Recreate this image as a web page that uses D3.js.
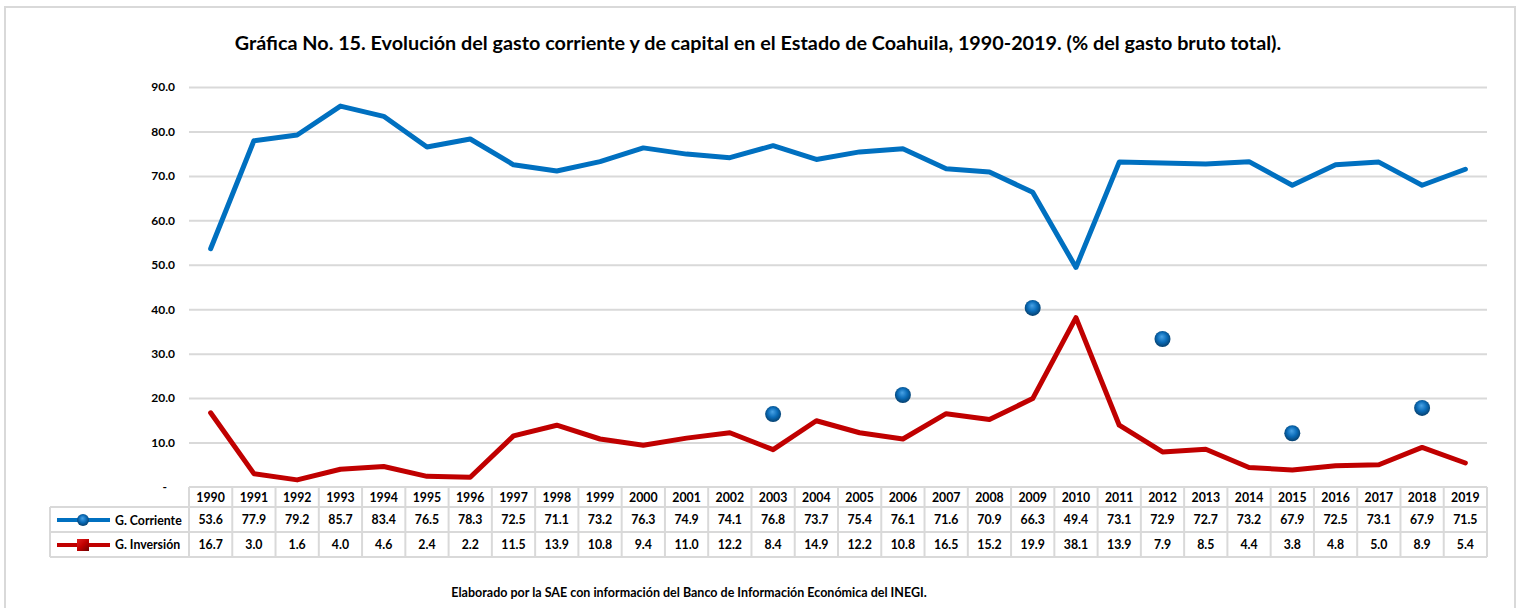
<!DOCTYPE html>
<html lang="es">
<head>
<meta charset="UTF-8">
<title>Gráfica No. 15</title>
<script src="https://cdn.jsdelivr.net/npm/d3@7"></script>
<style>
  body { margin: 0; background: #fff; }
  svg { display: block; font-family: Lato, "Open Sans", sans-serif; }
</style>
</head>
<body>
<svg class="svg"></svg>
<script>
const years = ["1990","1991","1992","1993","1994","1995","1996","1997","1998","1999",
  "2000","2001","2002","2003","2004","2005","2006","2007","2008","2009",
  "2010","2011","2012","2013","2014","2015","2016","2017","2018","2019"];
const corriente = [53.6,77.9,79.2,85.7,83.4,76.5,78.3,72.5,71.1,73.2,76.3,74.9,74.1,76.8,73.7,
  75.4,76.1,71.6,70.9,66.3,49.4,73.1,72.9,72.7,73.2,67.9,72.5,73.1,67.9,71.5];
const inversion = [16.7,3.0,1.6,4.0,4.6,2.4,2.2,11.5,13.9,10.8,9.4,11.0,12.2,8.4,14.9,
  12.2,10.8,16.5,15.2,19.9,38.1,13.9,7.9,8.5,4.4,3.8,4.8,5.0,8.9,5.4];
// loose markers floating in the plot
const dotYears = ["2003","2006","2009","2012","2015","2018"];
const dotValues = [16.4, 20.7, 40.3, 33.3, 12.1, 17.8];
const yTicks = [0,10,20,30,40,50,60,70,80,90];

const title = "Gráfica No. 15. Evolución del gasto corriente y de capital en el Estado de Coahuila, 1990-2019. (% del gasto bruto total).";
const note = "Elaborado por la SAE con información del Banco de Información Económica del INEGI.";

const W = 1520, H = 608;
const pLeft = 189, pRight = 1487, pTop = 87, pBottom = 487;
const blue = "#0070C0", red = "#C00000", grid = "#d9d9d9";

const svg = d3.select(".svg").attr("width", W).attr("height", H);

const defs = svg.append("defs");
const bg = defs.append("radialGradient").attr("id", "ball").attr("cx", "50%").attr("cy", "45%").attr("r", "55%").attr("fx", "45%").attr("fy", "35%");
bg.append("stop").attr("offset", "0%").attr("stop-color", "#4aa3e6");
bg.append("stop").attr("offset", "55%").attr("stop-color", "#0b6cb8");
bg.append("stop").attr("offset", "100%").attr("stop-color", "#06406e");
const sq = defs.append("linearGradient").attr("id", "sq").attr("x1", "0").attr("y1", "0").attr("x2", "1").attr("y2", "1");
sq.append("stop").attr("offset", "0%").attr("stop-color", "#e02020");
sq.append("stop").attr("offset", "50%").attr("stop-color", "#c00000");
sq.append("stop").attr("offset", "100%").attr("stop-color", "#6a0000");

svg.append("rect").attr("x", 5).attr("y", 7).attr("width", 1510).attr("height", 620)
  .attr("fill", "none").attr("stroke", grid).attr("stroke-width", 2);

svg.append("text").attr("x", 758).attr("y", 50).attr("text-anchor", "middle")
  .attr("font-size", 19.8).attr("font-weight", "bold").attr("fill", "#000").text(title);

const x = d3.scaleBand().domain(years).range([pLeft, pRight]);
const xc = d => x(d) + x.bandwidth() / 2;
const y = d3.scaleLinear().domain([0, 90]).range([pBottom, pTop]);

// gridlines
svg.append("g").attr("transform", "translate(" + pLeft + ",0)")
  .call(d3.axisLeft(y).tickValues(yTicks.slice(1)).tickSize(-(pRight - pLeft)).tickFormat(""))
  .call(g => g.select(".domain").remove())
  .call(g => g.selectAll("line").attr("stroke", grid).attr("stroke-width", 2));

// y labels
svg.append("g").attr("transform", "translate(175,0)")
  .call(d3.axisLeft(y).tickValues(yTicks).tickSize(0).tickPadding(0)
    .tickFormat(d => d === 0 ? "-" : d.toFixed(1)))
  .call(g => g.select(".domain").remove())
  .call(g => g.selectAll("text").attr("font-size", 12).attr("font-weight", "bold")
    .attr("font-family", "Lato, sans-serif").attr("fill", "#000"))
  .call(g => g.selectAll(".tick").filter(d => d === 0).select("text").attr("dx", -8));

const line = d3.line().x((d, i) => xc(years[i])).y(d => y(d));
svg.append("path").datum(inversion).attr("d", line).attr("fill", "none")
  .attr("stroke", red).attr("stroke-width", 5).attr("stroke-linejoin", "round").attr("stroke-linecap", "round");
svg.append("path").datum(corriente).attr("d", line).attr("fill", "none")
  .attr("stroke", blue).attr("stroke-width", 5).attr("stroke-linejoin", "round").attr("stroke-linecap", "round");

svg.append("g").selectAll("circle").data(dotValues).join("circle")
  .attr("cx", (d, i) => xc(dotYears[i])).attr("cy", d => y(d)).attr("r", 8)
  .attr("fill", "url(#ball)");

// data table
const rowY = [487, 507, 532, 557];
const tbl = svg.append("g");
const cellText = (row, vals, fmt) => {
  tbl.append("g").selectAll("text").data(vals).join("text")
    .attr("x", (d, i) => xc(years[i])).attr("y", (rowY[row] + rowY[row + 1]) / 2 + 4.5)
    .attr("text-anchor", "middle").attr("font-size", 12.3).attr("font-weight", "bold")
    .text(fmt);
};
// borders
const bord = tbl.append("g").attr("stroke", grid).attr("stroke-width", 2);
bord.append("line").attr("x1", pLeft).attr("x2", pRight).attr("y1", rowY[0]).attr("y2", rowY[0]);
[1, 2, 3].forEach(r => bord.append("line").attr("x1", 50).attr("x2", pRight).attr("y1", rowY[r]).attr("y2", rowY[r]));
bord.append("line").attr("x1", 50).attr("x2", 50).attr("y1", rowY[1]).attr("y2", rowY[3]);
bord.selectAll(".v").data(years.concat(["end"])).join("line")
  .attr("x1", d => d === "end" ? pRight : x(d)).attr("x2", d => d === "end" ? pRight : x(d))
  .attr("y1", rowY[0]).attr("y2", rowY[3]);

cellText(0, years, d => d);
cellText(1, corriente, d => d.toFixed(1));
cellText(2, inversion, d => d.toFixed(1));

// legend keys in table
const key = tbl.append("g");
key.append("line").attr("x1", 57).attr("x2", 110).attr("y1", 520).attr("y2", 520).attr("stroke", blue).attr("stroke-width", 4);
key.append("circle").attr("cx", 83).attr("cy", 520).attr("r", 6).attr("fill", "url(#ball)");
key.append("line").attr("x1", 57).attr("x2", 110).attr("y1", 545).attr("y2", 545).attr("stroke", red).attr("stroke-width", 4);
key.append("rect").attr("x", 77).attr("y", 539).attr("width", 12).attr("height", 12).attr("fill", "url(#sq)");
key.append("text").attr("x", 115).attr("y", 524.5).attr("font-size", 12.3).attr("font-weight", "bold").text("G. Corriente");
key.append("text").attr("x", 115).attr("y", 549).attr("font-size", 12.3).attr("font-weight", "bold").text("G. Inversión");

svg.append("text").attr("x", 689).attr("y", 597).attr("text-anchor", "middle")
  .attr("font-size", 12.5).attr("font-weight", "bold").text(note);
</script>
</body>
</html>
